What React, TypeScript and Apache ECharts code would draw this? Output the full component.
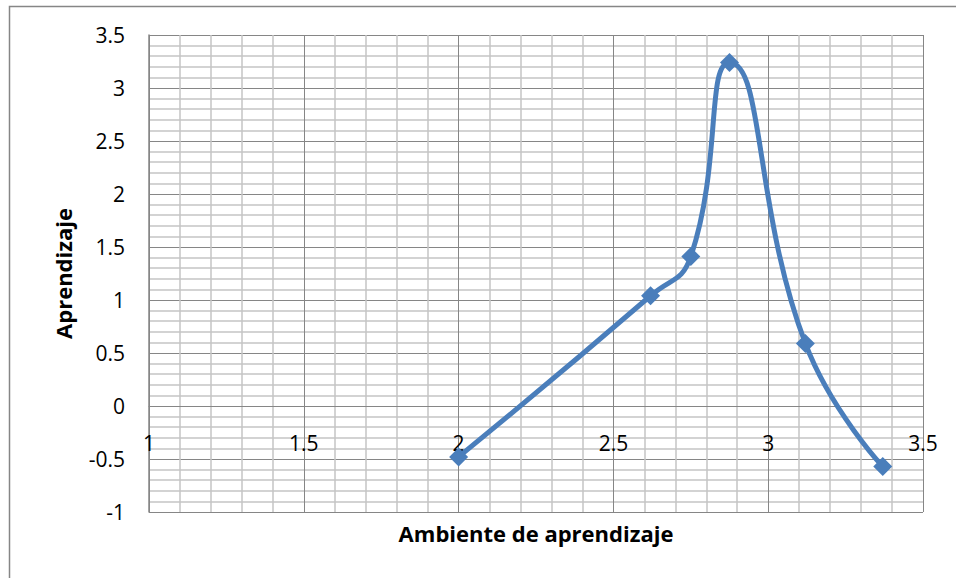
import React, { useEffect, useRef } from "react";
import * as echarts from "echarts";

const xValues = [2.0, 2.62, 2.75, 2.875, 3.12, 3.37];
const yValues = [-0.48, 1.04, 1.41, 3.24, 0.59, -0.57];
const xTitle = "Ambiente de aprendizaje";
const yTitle = "Aprendizaje";

const FONT = "'Open Sans', 'Noto Sans', sans-serif";

export default function App() {
  const ref = useRef<HTMLDivElement>(null);
  useEffect(() => {
    document.body.style.margin = "0";
    const chart = echarts.init(ref.current!, null, { renderer: "svg" });
    const data = xValues.map((x, i) => [x, yValues[i]]);
    const yMin = -1;
    const yMax = 3.5;
    const plotTop = 35;
    const plotBottom = 512;
    const zeroOffset = ((0 - yMin) / (yMax - yMin)) * (plotBottom - plotTop);
    chart.setOption({
      animation: false,
      backgroundColor: "#ffffff",
      graphic: [
        {
          type: "rect",
          shape: { x: 9.5, y: 6.5, width: 1100, height: 1100 },
          style: { fill: "none", stroke: "#868686", lineWidth: 1.5 },
          silent: true,
        },
      ],
      grid: {
        left: 149,
        top: plotTop,
        right: 33,
        bottom: 578 - plotBottom,
        containLabel: false,
        outerBoundsMode: "none",
      },
      xAxis: [
        {
          type: "value",
          min: 1,
          max: 3.5,
          interval: 0.5,
          position: "bottom",
          offset: -zeroOffset,
          axisLine: { show: true, onZero: false, lineStyle: { color: "#868686", width: 1 } },
          axisTick: { show: false },
          axisLabel: {
            fontFamily: FONT,
            fontSize: 21,
            color: "#000",
            margin: 26,
            showMinLabel: true,
            showMaxLabel: true,
          },
          splitLine: { show: true, lineStyle: { color: "#868686", width: 1 } },
          minorTick: { show: false, splitNumber: 5 },
          minorSplitLine: { show: true, lineStyle: { color: "#c4c4c4", width: 1.5 } },
        },
        {
          type: "value",
          min: 1,
          max: 3.5,
          interval: 0.5,
          position: "bottom",
          name: xTitle,
          nameLocation: "middle",
          nameGap: 10,
          nameTextStyle: { fontFamily: FONT, fontSize: 22, fontWeight: "bold", color: "#000" },
          axisLine: { show: false, onZero: false },
          axisTick: { show: false },
          axisLabel: { show: false },
          splitLine: { show: false },
        },
      ],
      yAxis: {
        type: "value",
        min: yMin,
        max: yMax,
        interval: 0.5,
        name: yTitle,
        nameLocation: "middle",
        nameGap: 75,
        nameRotate: 90,
        nameTextStyle: { fontFamily: FONT, fontSize: 22, fontWeight: "bold", color: "#000" },
        axisLine: { show: true, onZero: false, lineStyle: { color: "#868686", width: 1.5 } },
        axisTick: { show: true, inside: true, length: 7, lineStyle: { color: "#868686" } },
        axisLabel: { fontFamily: FONT, fontSize: 21, color: "#000", margin: 24 },
        splitLine: { show: true, lineStyle: { color: "#868686", width: 1 } },
        minorTick: { show: false, splitNumber: 5 },
        minorSplitLine: { show: true, lineStyle: { color: "#c4c4c4", width: 1.5 } },
      },
      series: [
        {
          type: "line",
          data,
          xAxisIndex: 0,
          smooth: 0.5,
          symbol: "diamond",
          symbolSize: 19,
          lineStyle: { color: "#4a7ebb", width: 5 },
          itemStyle: { color: "#4a7ebb" },
          z: 5,
        },
      ],
    });
    return () => chart.dispose();
  }, []);
  return (
    <div
      ref={ref}
      style={{ position: "absolute", left: 0, top: 0, width: 956, height: 578 }}
    />
  );
}
